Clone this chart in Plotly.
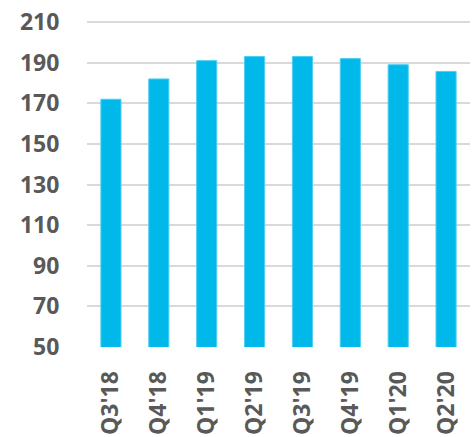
import plotly.graph_objects as go

quarters = ["Q3'18", "Q4'18", "Q1'19", "Q2'19", "Q3'19", "Q4'19", "Q1'20", "Q2'20"]
values = [172, 182, 191, 193, 193, 192, 189, 185.7]
y_ticks = [50, 70, 90, 110, 130, 150, 170, 190, 210]
base_value = 49.5

fig = go.Figure(
    go.Bar(
        x=quarters,
        y=[v - base_value for v in values],
        base=base_value,
        width=0.42,
        marker=dict(color="#00B8EA", line=dict(color="#4FCDF2", width=1)),
        hovertext=[str(v) for v in values],
    )
)

label_font = dict(family="Open Sans, Liberation Sans, sans-serif", size=23, color="#595959", weight="bold")

fig.update_layout(
    width=476,
    height=437,
    margin=dict(l=87, r=6, t=18, b=90),
    plot_bgcolor="white",
    paper_bgcolor="white",
    showlegend=False,
    xaxis=dict(
        tickangle=-90,
        tickfont=label_font,
        ticks="outside",
        ticklen=14,
        tickcolor="rgba(0,0,0,0)",
        showgrid=False,
        showline=False,
        automargin=False,
    ),
    yaxis=dict(
        range=[50, 212],
        tickvals=y_ticks,
        tickfont=label_font,
        showgrid=True,
        gridcolor="#D9D9D9",
        gridwidth=1.5,
        zeroline=False,
        showline=False,
        ticks="outside",
        ticklen=22,
        tickcolor="rgba(0,0,0,0)",
        automargin=False,
    ),
)

fig.write_html("out.html")
